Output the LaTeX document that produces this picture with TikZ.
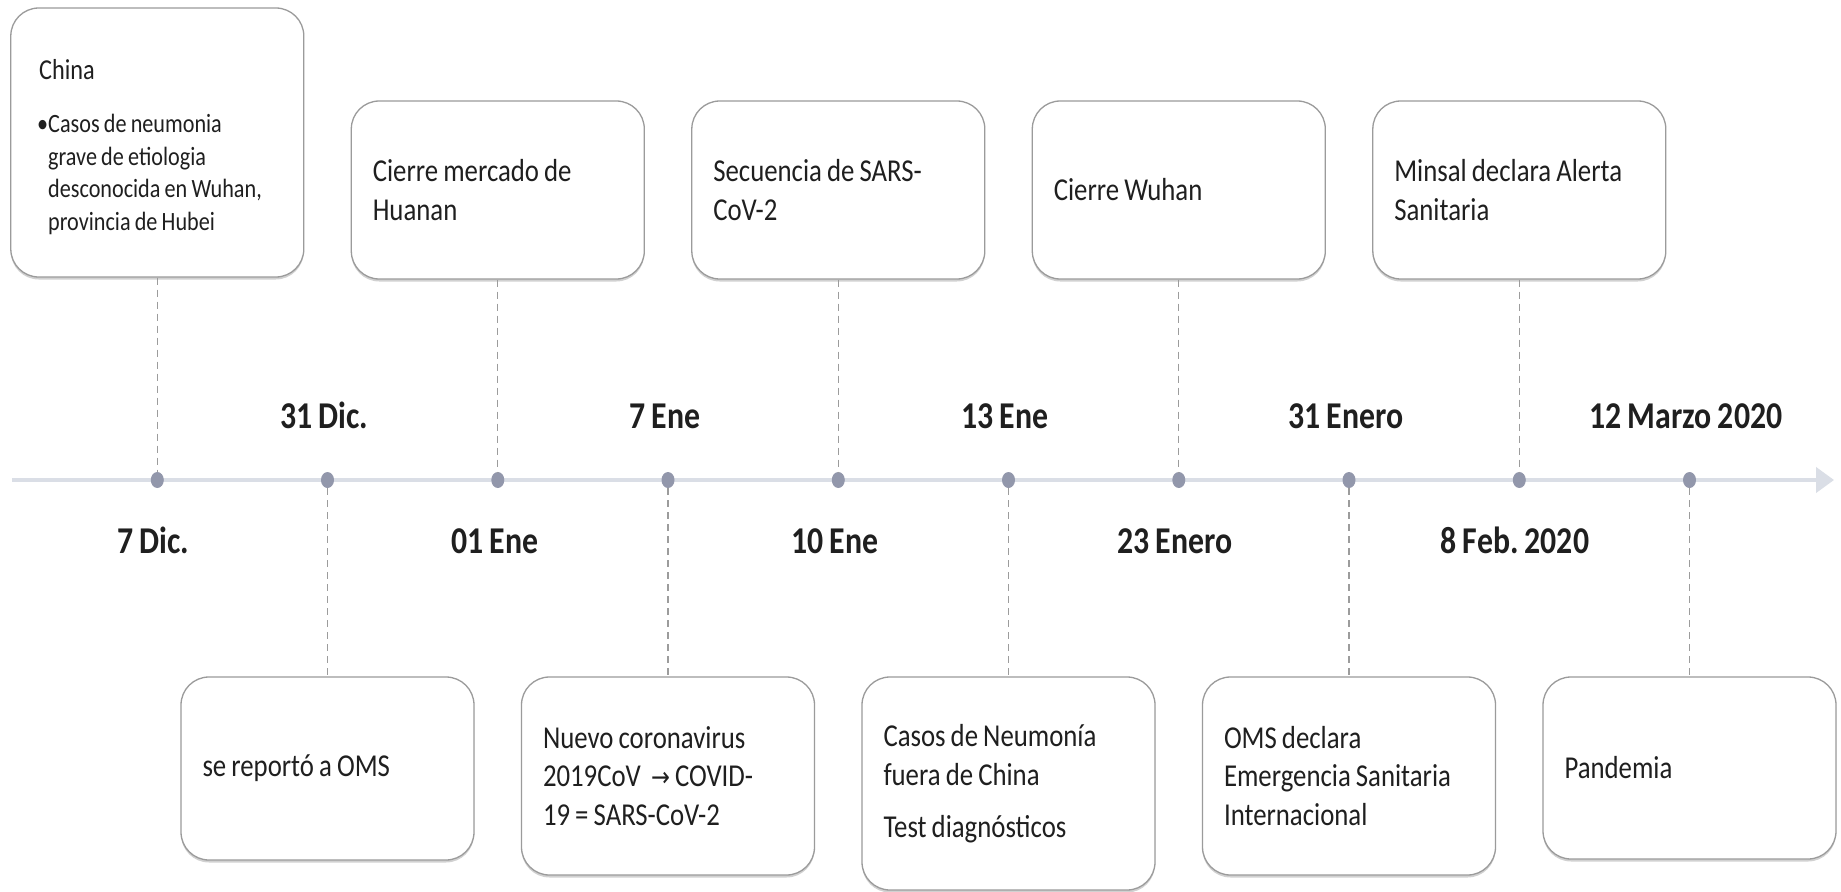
\documentclass[tikz,border=0pt]{standalone}
\usepackage{fontspec}
\setmainfont{Carlito}[FakeStretch=0.84, WordSpace=0.84]
\newfontfamily\symf{DejaVu Sans}[FakeStretch=0.84]
\usetikzlibrary{arrows.meta,shapes.geometric,shadows}
\definecolor{boxline}{HTML}{9B9B9B}
\definecolor{axisc}{HTML}{DADEE6}
\definecolor{dotc}{HTML}{9297AB}
\definecolor{dashc}{HTML}{9C9C9C}
\definecolor{txt}{HTML}{1F1F1F}
\newcommand\boxfont{\fontsize{32}{39}\selectfont}
\newcommand\datefont{\fontsize{38}{42}\selectfont\bfseries}
\tikzset{
  evbox/.style={draw=boxline, line width=1.3bp, rounded corners=28bp, fill=white,
    inner sep=0pt, text width=250bp, minimum width=293bp, align=left,
    font=\boxfont, text=txt,
    execute at begin node={\spaceskip=0pt\relax\xspaceskip=0pt\relax},
    drop shadow={shadow xshift=0bp, shadow yshift=-2.5bp, fill=black, opacity=0.18}},
  dotm/.style={ellipse, fill=dotc, inner sep=0pt, minimum width=13bp, minimum height=16bp},
  dashln/.style={draw=dashc, line width=1.2bp, dash pattern=on 7bp off 5bp},
  datelbl/.style={font=\datefont, text=txt, anchor=base, inner sep=0pt},
  axisln/.style={draw=axisc, line width=4bp, -{Triangle[length=18bp,width=25bp,fill=axisc]}}
}
\begin{document}
\begin{tikzpicture}[x=1bp,y=-1bp]
\useasboundingbox[fill=white] (0,0) rectangle (1841,892);
% axis
\coordinate (axs) at (12,480);
\coordinate (axe) at (1834,480);
\draw[axisln] (axs) -- (axe);
% boxes (top)
\node[evbox, minimum height=269bp] (b1) at (157.3,142.5) {};
\node[font=\fontsize{29}{33}\selectfont, text=txt, anchor=north west, inner sep=0pt] (t1a) at (39,59) {China};
\node[font=\fontsize{26.5}{32.7}\selectfont, text=txt, anchor=north west, inner sep=0pt, align=left,
  execute at begin node={\spaceskip=0pt\relax\xspaceskip=0pt\relax}] (t1b) at (48,114)
  {\llap{\textbullet}Casos de neumonia\\grave de etiologia\\desconocida en Wuhan,\\provincia de Hubei};
\node[evbox, minimum height=178bp] (b3) at (497.8,190) {Cierre mercado de\\Huanan};
\node[evbox, minimum height=178bp] (b5) at (838.3,190) {Secuencia de SARS-\\CoV-2};
\node[evbox, minimum height=178bp] (b7) at (1178.8,190) {Cierre Wuhan};
\node[evbox, minimum height=178bp] (b9) at (1519.3,190) {Minsal declara Alerta\\Sanitaria};
% boxes (bottom)
\node[evbox, minimum height=183bp] (b2) at (327.5,768.5) {se report\'o a OMS};
\node[evbox, minimum height=198bp] (b4) at (668,776) {Nuevo coronavirus\\2019CoV\ \ {\symf\fontsize{27}{39}\selectfont →} COVID-\\19 = SARS-CoV-2};
\node[evbox, minimum height=213bp] (b6) at (1008.5,783.5) {Casos de Neumon\'ia\\fuera de China\\[13bp]Test diagn\'osticos};
\node[evbox, minimum height=198bp] (b8) at (1349,776) {OMS declara\\Emergencia Sanitaria\\Internacional};
\node[evbox, minimum height=182bp] (b10) at (1689.5,768) {Pandemia};
% dots
\node[dotm] (p1) at (157.3,480) {};
\node[dotm] (p2) at (327.5,480) {};
\node[dotm] (p3) at (497.8,480) {};
\node[dotm] (p4) at (668.0,480) {};
\node[dotm] (p5) at (838.3,480) {};
\node[dotm] (p6) at (1008.5,480) {};
\node[dotm] (p7) at (1178.8,480) {};
\node[dotm] (p8) at (1349.0,480) {};
\node[dotm] (p9) at (1519.3,480) {};
\node[dotm] (p10) at (1689.5,480) {};
% connectors
\draw[dashln] (b1.south) -- (p1.north);
\draw[dashln] (p2.south) -- (b2.north);
\draw[dashln] (b3.south) -- (p3.north);
\draw[dashln] (p4.south) -- (b4.north);
\draw[dashln] (b5.south) -- (p5.north);
\draw[dashln] (p6.south) -- (b6.north);
\draw[dashln] (b7.south) -- (p7.north);
\draw[dashln] (p8.south) -- (b8.north);
\draw[dashln] (b9.south) -- (p9.north);
\draw[dashln] (p10.south) -- (b10.north);
% dates
\node[datelbl] (d1) at (153,553) {7 Dic.};
\node[datelbl] (d2) at (324,428) {31 Dic.};
\node[datelbl] (d3) at (495,553) {01 Ene};
\node[datelbl] (d4) at (665,428) {7 Ene};
\node[datelbl] (d5) at (835,553) {10 Ene};
\node[datelbl] (d6) at (1005,428) {13 Ene};
\node[datelbl] (d7) at (1175,553) {23 Enero};
\node[datelbl] (d8) at (1346,428) {31 Enero};
\node[datelbl] (d9) at (1515,553) {8 Feb.\ 2020};
\node[datelbl] (d10) at (1686,428) {12 Marzo 2020};
\end{tikzpicture}
\end{document}
